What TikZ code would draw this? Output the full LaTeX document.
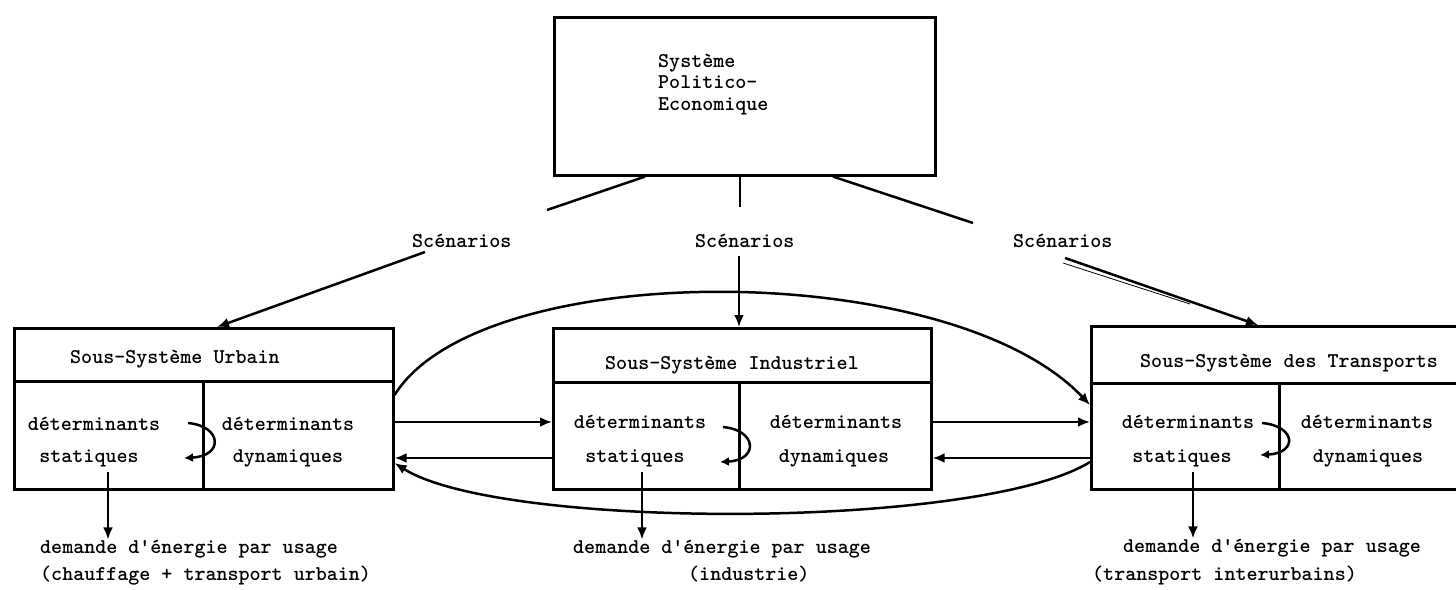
\documentclass[tikz,border=0pt]{standalone}
\usepackage{fontspec}
\usetikzlibrary{arrows.meta}
\tikzset{
  box/.style={draw, line width=2.6pt, inner sep=0pt, anchor=north west},
  lbl/.style={font=\ttfamily\fontseries{b}\fontsize{21}{24}\selectfont, inner sep=0pt},
  arr/.style={line width=2.5pt, -{Latex[length=12pt,width=10pt]}},
  curl/.style={line width=2.5pt, -{Latex[length=9pt,width=9pt]}},
  ln/.style={line width=2.5pt},
}
\begin{document}
\begin{tikzpicture}[x=1pt,y=-1pt]
\useasboundingbox (0,0) rectangle (1456,589);
\clip (0,0) rectangle (1456,589);
\fill[white] (0,0) rectangle (1456,589);

% boxes
\node[box, minimum width=381pt, minimum height=158pt] (pol) at (553,16) {};
\node[box, minimum width=379pt, minimum height=53pt] (urbH) at (13,327) {};
\node[box, minimum width=189pt, minimum height=108pt] (urbL) at (13,380) {};
\node[box, minimum width=190pt, minimum height=108pt] (urbR) at (202,380) {};
\node[box, minimum width=378pt, minimum height=54pt] (indH) at (552,327) {};
\node[box, minimum width=186pt, minimum height=107pt] (indL) at (552,381) {};
\node[box, minimum width=192pt, minimum height=107pt] (indR) at (738,381) {};
\node[box, minimum width=380pt, minimum height=57pt] (traH) at (1090,325) {};
\node[box, minimum width=188pt, minimum height=106pt] (traL) at (1090,382) {};
\node[box, minimum width=192pt, minimum height=106pt] (traR) at (1278,382) {};

% texts
\node[lbl, anchor=base west] (polA) at (658,67) {Système};
\node[lbl, anchor=base west] (polB) at (658,88) {Politico-};
\node[lbl, anchor=base west] (polC) at (658,110) {Economique};

\node[lbl, anchor=base west] (scA) at (412,247) {Scénarios};
\node[lbl, anchor=base west] (scB) at (695,247) {Scénarios};
\node[lbl, anchor=base west] (scC) at (1013,247) {Scénarios};

\node[lbl, anchor=base west] (urbT) at (70,363) {Sous-Système Urbain};
\node[lbl, anchor=base west] (indT) at (605,369) {Sous-Système Industriel};
\node[lbl, anchor=base west] (traT) at (1140,367) {Sous-Système des Transports};

\node[lbl, anchor=base] (urbL1) at (94,430) {déterminants};
\node[lbl, anchor=base] (urbL2) at (89,462) {statiques};
\node[lbl, anchor=base] (urbR1) at (288,430) {déterminants};
\node[lbl, anchor=base] (urbR2) at (288,462) {dynamiques};
\node[lbl, anchor=base] (indL1) at (640,428) {déterminants};
\node[lbl, anchor=base] (indL2) at (635,462) {statiques};
\node[lbl, anchor=base] (indR1) at (836,428) {déterminants};
\node[lbl, anchor=base] (indR2) at (834,462) {dynamiques};
\node[lbl, anchor=base] (traL1) at (1188,428) {déterminants};
\node[lbl, anchor=base] (traL2) at (1182,462) {statiques};
\node[lbl, anchor=base] (traR1) at (1367,428) {déterminants};
\node[lbl, anchor=base] (traR2) at (1368,462) {dynamiques};

\node[lbl, anchor=base west] (urbD1) at (40,553) {demande d'énergie par usage};
\node[lbl, anchor=base west] (urbD2) at (40,580) {(chauffage + transport urbain)};
\node[lbl, anchor=base west] (indD1) at (573,553) {demande d'énergie par usage};
\node[lbl, anchor=base west] (indD2) at (688,580) {(industrie)};
\node[lbl, anchor=base west] (traD1) at (1123,552) {demande d'énergie par usage};
\node[lbl, anchor=base west] (traD2) at (1092,580) {(transport interurbains)};

% lines below political system
\coordinate (plA) at (547,210);
\coordinate (plB) at (740,207);
\coordinate (plC) at (973,223);
\draw[ln] (pol.south -| 645,0) -- (plA);
\draw[ln] (pol.south -| 740,0) -- (plB);
\draw[ln] (pol.south -| 833,0) -- (plC);

% scenario arrows
\coordinate (scAs) at (425,252);
\coordinate (scBs) at (739,256);
\coordinate (scCs) at (1065,258);
\draw[arr] (scAs) -- (urbH.north -| 217,0);
\draw[arr] (scBs) -- (indH.north -| 739,0);
\draw[arr] (scCs) -- (traH.north -| 1258,0);
\draw[line width=0.8pt] (1063,263) -- (1190,304);

% horizontal arrows
\draw[arr] (urbR.east |- 0,422) -- (indL.west |- 0,422);
\draw[arr] (indL.west |- 0,458) -- (urbR.east |- 0,458);
\draw[arr] (indR.east |- 0,422) -- (traL.west |- 0,422);
\draw[arr] (traL.west |- 0,458) -- (indR.east |- 0,458);

% big curves
\draw[arr] (urbR.east |- 0,395) .. controls (480,257) and (950,257) .. (traL.west |- 0,405);
\draw[arr] (traL.west |- 0,462) .. controls (980,530) and (500,530) .. (urbR.east |- 0,463);

% curls
\draw[curl] (188,423) .. controls (222,426) and (224,456) .. (184,458);
\draw[curl] (723,427) .. controls (757,430) and (759,460) .. (720,462);
\draw[curl] (1262,423) .. controls (1296,426) and (1298,453) .. (1260,455);

% demand arrows
\coordinate (urbDs) at (108,472);
\coordinate (indDs) at (642,472);
\coordinate (traDs) at (1193,472);
\draw[arr] (urbDs) -- (urbD1.north -| 108,0);
\draw[arr] (indDs) -- (indD1.north -| 642,0);
\draw[arr] (traDs) -- (traD1.north -| 1193,0);
\end{tikzpicture}
\end{document}
